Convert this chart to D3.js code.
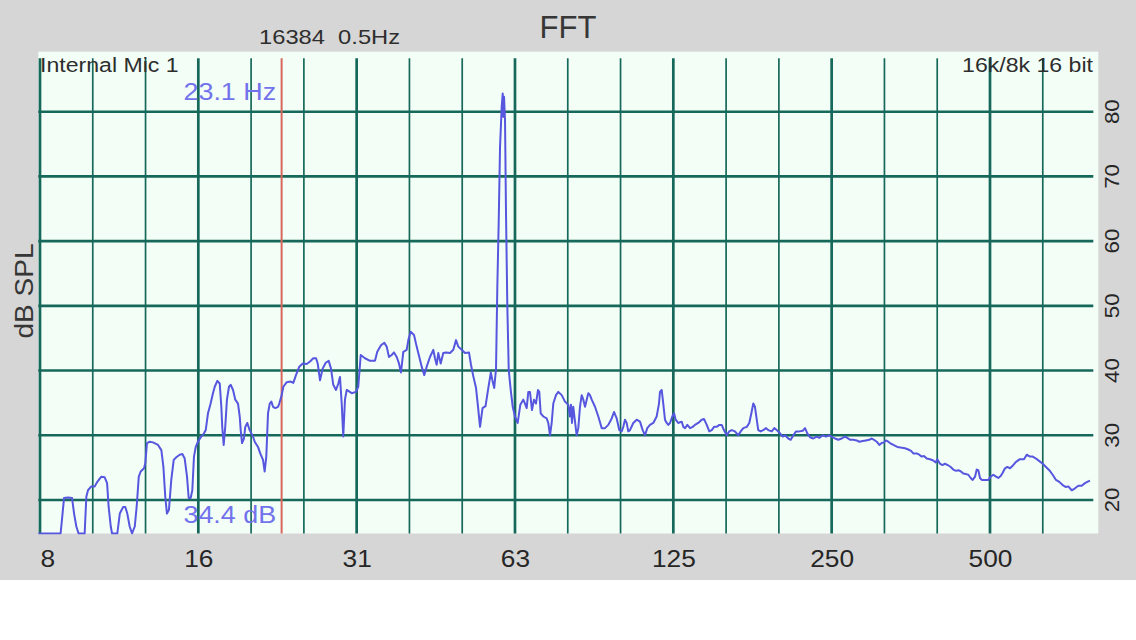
<!DOCTYPE html>
<html>
<head>
<meta charset="utf-8">
<script src="https://cdn.jsdelivr.net/npm/d3@7/dist/d3.min.js"></script>
<style>
  html, body { margin: 0; padding: 0; background: #ffffff; }
  svg { display: block; }
  text { font-family: "Liberation Sans", Arial, Helvetica, sans-serif; }
</style>
</head>
<body>
<svg id="chart" width="1136" height="640"></svg>
<script>
// ---------------- data ----------------
const freqHz = [
  7.75, 8.55, 8.60, 8.68, 8.83, 8.99, 9.07, 9.16, 9.25, 9.50, 9.57, 9.64, 9.78, 9.93,
  10.04, 10.22, 10.37, 10.48, 10.55, 10.65, 10.71, 10.96, 11.08, 11.24, 11.35, 11.45,
  11.57, 11.69, 11.83, 11.93, 12.04, 12.14, 12.32, 12.39, 12.48, 12.63, 12.81, 13.10,
  13.29, 13.41, 13.52, 13.62, 13.74, 13.88, 14.03, 14.19, 14.40, 14.57, 14.72, 14.87,
  14.98, 15.11, 15.22, 15.33, 15.45, 15.60,
  15.83, 16.02, 16.14, 16.30, 16.49, 16.66, 16.79, 16.98, 17.16, 17.28, 17.35, 17.46,
  17.58, 17.71, 17.87, 18.00, 18.19, 18.37, 18.59, 18.73, 18.81, 18.92, 19.08, 19.19,
  19.36, 19.56, 19.85, 20.00, 20.29, 20.49, 20.74, 20.89, 21.04, 21.20, 21.36, 21.51,
  21.67, 21.89, 22.15, 22.27, 22.51, 22.67, 23.01, 23.41, 23.68, 23.96, 24.31, 24.68,
  25.11, 25.48, 25.85, 26.16, 26.35, 26.62, 26.93, 27.29, 27.65, 27.93, 28.21, 28.55,
  28.84, 29.05, 29.27, 29.47, 29.69, 29.92, 30.58, 31.16,
  31.47, 31.81, 32.41, 33.13, 33.86, 34.20, 34.76, 35.27, 35.64, 36.00, 36.43, 36.80,
  37.24, 37.61, 37.94, 38.33, 38.90, 39.18, 39.59, 40.17, 40.64, 41.11, 41.54, 42.02,
  42.46, 43.08, 43.71, 44.03, 44.36, 44.67, 45.15, 45.66, 46.21, 47.02, 47.71, 48.28,
  48.76, 49.50, 50.22, 51.10, 51.55, 52.08, 52.70, 53.16, 53.63, 54.22, 54.94, 55.54,
  56.23, 56.65, 57.07, 57.52, 57.85, 58.21, 58.54, 58.97, 59.23, 59.39, 59.57, 59.83,
  60.09, 60.44, 60.81, 61.34, 61.88, 62.50,
  63.24, 63.97, 64.81, 65.30, 65.78, 66.25, 66.74, 67.33, 67.92, 68.52, 69.12, 69.51,
  69.94, 70.74, 71.80, 72.31, 72.85, 73.39, 73.91, 74.79, 75.55, 76.68, 77.79, 78.93,
  79.51, 79.86, 80.21, 80.67, 81.28, 81.88, 82.46, 83.07, 83.69, 84.29, 84.92, 85.55,
  86.15, 86.79, 87.44, 88.72, 90.01, 91.36, 92.68, 94.03, 95.44, 96.41, 97.55, 98.67,
  99.71, 100.41, 101.16, 101.91, 102.63, 103.40, 104.90, 106.47, 108.02, 109.31, 110.41,
  111.53, 112.86, 114.50, 116.21, 117.39, 117.91, 118.79, 119.62, 120.52, 121.42, 122.28,
  123.19, 124.43,
  125.4, 126.3, 127.7, 129.7, 130.6, 131.6, 132.9, 134.5, 136.1, 137.4, 139.4, 141.5,
  143.0, 144.7, 146.3, 147.9, 149.4, 151.1, 152.9, 154.5, 156.0, 157.9, 159.7, 161.4,
  163.7, 166.1, 167.9, 169.8, 172.4, 174.3, 175.9, 177.4, 178.7, 180.1, 181.3, 183.2,
  185.3, 187.6, 189.4, 192.3, 194.5, 196.6, 199.4, 201.8, 203.8, 206.8, 209.0, 211.4,
  213.9, 217.0, 220.3, 222.5, 224.7, 227.4, 230.7, 234.2, 236.8, 240.4, 243.9, 247.4,
  250.0, 253.7, 257.4, 261.2, 265.0, 267.7, 270.9, 274.8, 279.0, 282.2, 286.4, 290.5,
  294.7, 297.9, 300.9, 304.5, 308.0, 311.2, 314.4, 317.1, 320.4, 322.7, 327.5, 333.2,
  338.2, 344.6, 349.7, 353.9, 357.4, 362.8, 366.9, 370.8, 374.5, 379.0, 384.5, 390.1,
  394.2, 397.0, 401.7, 405.8, 410.6, 415.5, 421.0, 425.8, 430.9, 435.3, 440.4, 444.9,
  450.2, 454.7, 459.5, 463.6, 468.3, 471.8, 475.1, 478.6, 482.2, 489.2, 496.4,
  501.5, 507.3, 513.3, 518.5, 524.0, 528.6, 533.9, 539.4, 545.8, 552.3, 560.3, 570.2,
  580.3, 587.2, 595.7, 602.8, 611.6, 620.5, 629.8, 638.9, 648.2, 657.9, 667.5, 677.2,
  687.3, 697.4, 704.4, 715.0, 725.4, 736.0, 747.0, 757.8, 765.5, 774.6
];
const splDb = [
  14.8, 14.8, 16.9, 20.3, 20.4, 20.3, 17.9, 15.9, 14.8, 14.8, 20.5, 21.5, 22.1, 22.1,
  22.8, 23.6, 23.5, 22.6, 19.0, 15.9, 14.8, 14.8, 17.9, 18.9, 18.9, 17.9,
  15.9, 14.8, 15.9, 19.0, 23.6, 24.4, 24.9, 25.7, 28.8, 29.0, 28.9, 28.5,
  27.7, 25.1, 20.5, 17.9, 18.5, 23.1, 26.2, 26.6, 27.0, 27.1, 26.4, 23.6,
  20.3, 20.3, 21.5, 26.7, 28.2, 29.0,
  29.8, 30.3, 30.8, 33.4, 34.9, 36.5, 37.5, 38.4, 38.0, 34.4, 31.3, 28.5,
  31.3, 35.5, 37.5, 37.8, 37.0, 35.5, 34.9, 32.9, 30.8, 28.8, 29.5, 31.3,
  31.9, 30.8, 29.8, 29.0, 28.2, 27.2, 26.2, 24.4, 26.7, 33.4, 34.9, 35.2,
  34.4, 34.2, 34.4, 34.9, 36.2, 37.5, 38.2, 38.3, 38.1, 39.3, 40.6, 41.1,
  41.0, 41.4, 41.9, 41.9, 41.1, 38.5, 40.3, 41.2, 41.5, 40.3, 37.8, 37.0,
  38.0, 39.0, 34.9, 29.8, 35.5, 37.0, 36.5, 36.7,
  37.5, 42.4, 41.9, 41.5, 41.5, 42.9, 43.9, 44.3, 43.7, 42.1, 42.4, 42.8,
  42.1, 41.1, 39.7, 42.9, 43.2, 44.7, 46.0, 45.5, 43.7, 42.1, 40.6, 39.3,
  40.6, 42.1, 43.2, 41.9, 40.9, 42.7, 41.1, 42.7, 42.8, 42.7, 43.2, 44.7,
  43.7, 43.2, 42.7, 42.8, 40.9, 39.1, 37.3, 34.4, 31.3, 34.2, 34.5, 37.0,
  39.7, 38.4, 37.3, 40.3, 53.0, 63.3, 74.6, 80.8, 82.8, 79.2, 82.3, 78.7,
  64.3, 49.9, 40.1, 37.0, 34.4, 32.9,
  31.9, 34.7, 35.5, 34.9, 34.2, 36.7, 36.7, 33.9, 35.5, 34.9, 37.0, 36.7,
  33.4, 32.9, 32.6, 31.9, 30.0, 31.9, 34.9, 36.2, 36.7, 36.2, 35.2, 34.7,
  32.9, 34.7, 31.9, 34.4, 32.1, 30.0, 31.1, 34.4, 36.2, 35.5, 34.4, 35.5,
  36.5, 36.2, 35.5, 34.4, 32.9, 31.1, 31.1, 31.6, 32.6, 33.6, 32.6, 30.8,
  30.6, 31.3, 32.4, 31.9, 30.6, 30.8, 31.9, 32.4, 32.1, 30.8, 30.0,
  31.1, 31.6, 31.9, 32.9, 34.9, 36.7, 37.0, 34.9, 32.4, 31.9, 31.6,
  31.9, 32.9,
  33.4, 32.4, 31.9, 32.1, 31.3, 31.1, 31.6, 31.1, 31.3, 31.6, 31.9, 32.4,
  32.5, 31.6, 30.6, 30.8, 31.3, 31.3, 31.6, 31.6, 30.8, 30.0, 30.6, 30.8,
  30.6, 30.0, 30.6, 31.1, 31.3, 31.9, 33.4, 34.9, 34.4, 32.4, 30.8, 30.6,
  30.8, 31.1, 30.8, 30.6, 31.1, 30.8, 30.3, 29.8, 30.0, 29.5, 29.3, 30.0,
  30.6, 30.6, 30.7, 31.1, 30.3, 29.7, 29.5, 29.8, 29.6, 30.0, 29.8, 30.0,
  29.8, 29.5, 29.3, 29.5, 29.8, 29.6, 29.3, 29.3, 29.2, 29.0, 29.1, 29.2,
  29.3, 29.5, 29.3, 29.0, 28.5, 28.8, 28.9, 29.2, 29.0, 28.8, 28.5, 28.2,
  28.1, 28.0, 27.8, 27.6, 27.2, 27.2, 27.0, 26.7, 26.8, 26.4, 26.3, 26.1,
  25.8, 26.3, 25.6, 25.4, 25.6, 25.4, 25.1, 24.7, 24.5, 24.6, 24.4, 24.1,
  24.0, 23.9, 23.4, 23.1, 23.6, 24.7, 24.6, 23.4, 23.1, 23.1, 23.1,
  23.6, 23.9, 23.6, 23.4, 23.7, 24.2, 24.9, 25.1, 24.9, 25.3, 25.9, 26.3,
  26.3, 27.0, 26.7, 26.7, 26.4, 26.0, 25.6, 25.1, 24.6, 23.9, 23.1, 22.8,
  22.3, 22.0, 22.1, 21.5, 21.8, 22.2, 22.2, 22.6, 22.8, 23.0
];

// axis ticks and labels
const octaveTicks  = [7.8125, 15.625, 31.25, 62.5, 125, 250, 500];
const octaveLabels = ["8", "16", "31", "63", "125", "250", "500"];
const thirdTicks   = [9.843, 12.402, 19.686, 24.803, 39.373, 49.606, 78.745, 99.213,
                      157.49, 198.43, 314.98, 396.85, 629.96];
const dbTicks      = [20, 30, 40, 50, 60, 70, 80];
const xDomain      = [7.755, 803.3];
const yDomain      = [14.82, 89.27];

// cursor readout
const cursorHz     = 22.5;
const cursorFreqText = "23.1 Hz";
const cursorDbText   = "34.4 dB";

// texts
const titleText  = "FFT";
const fftInfo    = "16384  0.5Hz";
const inputName  = "Internal Mic 1";
const formatText = "16k/8k 16 bit";
const yTitle     = "dB SPL";

// ---------------- layout ----------------
const W = 1136, H = 640;
const plot = { left: 38.3, right: 1098.3, top: 51.7, bottom: 533.5 };
const gridTop = 58.3, gridRight = 1093.3;
const grey = "#d6d6d6", plotBg = "#f3fef7", gridColor = "#16695a";
const textColor = "#363636", curveColor = "#5656df", cursorColor = "#d8675d", readColor = "#7272ec";
const stretch = 1.12;

const svg = d3.select("#chart");

svg.append("rect").attr("x", 0).attr("y", 0).attr("width", W).attr("height", 580).attr("fill", grey);
svg.append("rect").attr("x", plot.left).attr("y", plot.top)
   .attr("width", plot.right - plot.left).attr("height", plot.bottom - plot.top).attr("fill", plotBg);

const x = d3.scaleLog().domain(xDomain).range([plot.left, plot.right]);
const y = d3.scaleLinear().domain(yDomain).range([plot.bottom, plot.top]).clamp(true);

// grid
const grid = svg.append("g");
grid.selectAll("line.h").data(dbTicks).join("line")
  .attr("class", "h")
  .attr("x1", plot.left).attr("x2", gridRight)
  .attr("y1", d => y(d)).attr("y2", d => y(d))
  .attr("stroke", gridColor).attr("stroke-width", 2.6);
grid.selectAll("line.vt").data(thirdTicks).join("line")
  .attr("class", "vt")
  .attr("x1", d => x(d)).attr("x2", d => x(d))
  .attr("y1", gridTop).attr("y2", plot.bottom)
  .attr("stroke", gridColor).attr("stroke-width", 1.7);
grid.selectAll("line.vo").data(octaveTicks).join("line")
  .attr("class", "vo")
  .attr("x1", d => x(d)).attr("x2", d => x(d))
  .attr("y1", gridTop).attr("y2", plot.bottom)
  .attr("stroke", gridColor).attr("stroke-width", 2.7);

// cursor
svg.append("line")
  .attr("x1", x(cursorHz)).attr("x2", x(cursorHz))
  .attr("y1", gridTop).attr("y2", plot.bottom)
  .attr("stroke", cursorColor).attr("stroke-width", 2);

// clip + curve
svg.append("clipPath").attr("id", "plotClip").append("rect")
  .attr("x", plot.left).attr("y", plot.top)
  .attr("width", plot.right - plot.left).attr("height", plot.bottom - plot.top + 1);

const pts = freqHz.map((f, i) => [f, splDb[i]]);
const line = d3.line().x(d => x(d[0])).y(d => y(d[1]));
svg.append("path")
  .attr("d", line(pts))
  .attr("clip-path", "url(#plotClip)")
  .attr("fill", "none")
  .attr("stroke", curveColor)
  .attr("stroke-width", 2)
  .attr("stroke-linejoin", "round");

// helper for horizontally stretched text
function stext(parent, tx, ty, str, size, anchor, color, sx, rot) {
  const g = parent.append("g")
    .attr("transform", `translate(${tx},${ty})` + (rot ? ` rotate(${rot})` : "") + ` scale(${sx},1)`);
  return g.append("text")
    .attr("x", 0).attr("y", 0)
    .attr("text-anchor", anchor)
    .attr("font-size", size)
    .attr("fill", color)
    .style("white-space", "pre")
    .text(str);
}

// cursor readouts
stext(svg, x(cursorHz) - 5.5, 100, cursorFreqText, 24, "end", readColor, stretch);
stext(svg, x(cursorHz) - 5.5, 523, cursorDbText, 24, "end", readColor, stretch);

// corner texts
stext(svg, 40, 71.5, inputName, 21, "start", "#2e2e2e", 1.1);
stext(svg, 1093, 71.5, formatText, 21, "end", "#2e2e2e", 1.1);

// title and info
stext(svg, 568, 38, titleText, 31, "middle", textColor, 1.0);
stext(svg, 259, 43.5, fftInfo, 21, "start", "#2e2e2e", 1.13);

// y title
stext(svg, 33, 291, yTitle, 25, "middle", textColor, stretch, -90);

// bottom axis
const xAxis = d3.axisBottom(x).tickValues(octaveTicks)
  .tickFormat((d, i) => octaveLabels[i]).tickSize(0);
const gx = svg.append("g").attr("transform", `translate(0,${plot.bottom})`).call(xAxis);
gx.select(".domain").remove();
gx.selectAll(".tick text")
  .attr("y", 33.5).attr("dy", 0)
  .attr("font-size", 23.5)
  .attr("font-family", "'Liberation Sans', Arial, Helvetica, sans-serif")
  .attr("fill", "#262626")
  .attr("transform", `scale(${stretch},1)`)
  .attr("text-anchor", (d, i) => i === 0 ? "start" : "middle");

// right axis (rotated labels)
const gy = svg.append("g");
dbTicks.forEach(v => {
  stext(gy, 1118.5, y(v), String(v), 21, "middle", "#262626", 1.06, -90);
});
</script>
</body>
</html>
